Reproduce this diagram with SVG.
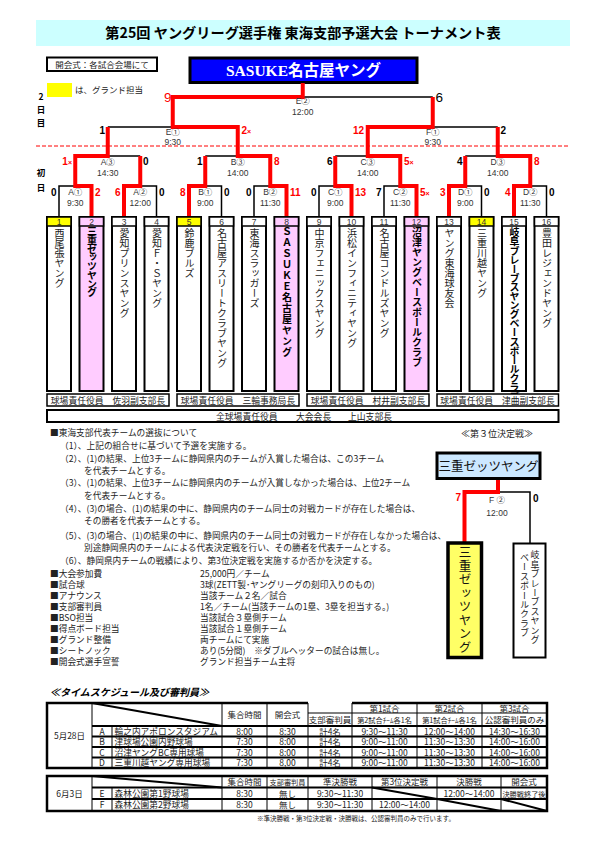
<svg xmlns="http://www.w3.org/2000/svg" width="595" height="842" viewBox="0 0 595 842">
<style>
text{font-family:"Noto Sans CJK JP",sans-serif;}
.lt{font-family:"Liberation Sans","Noto Sans CJK JP",sans-serif;}
.lbl{font-family:"Liberation Sans","Noto Sans CJK JP",sans-serif;font-size:8.5px;fill:#333;text-anchor:middle;}
.sc{font-family:"Liberation Sans",sans-serif;font-weight:bold;font-size:10px;}
.r{fill:#ff0000;}
.k{fill:#000;}
.e{text-anchor:end;}
.ln{fill:none;stroke:#000;stroke-width:1.5;}
.rl{fill:none;stroke:#ff0000;stroke-width:4;}
.tb{stroke:#000;stroke-width:2;}
.th{stroke:#000;stroke-width:1.5;}
.num{font-family:"Liberation Sans",sans-serif;font-size:8.5px;fill:#333;text-anchor:middle;}
.vt{writing-mode:vertical-rl;text-orientation:upright;font-size:10px;fill:#222;}
.vb{writing-mode:vertical-rl;text-orientation:upright;font-size:10px;font-weight:bold;fill:#000;}
.sm{font-size:8.8px;fill:#222;}
.bd{font-size:8.7px;fill:#222;}
.tc{font-size:8.5px;fill:#222;text-anchor:middle;}
.tt{font-size:7.2px;fill:#222;text-anchor:middle;}
.ob{fill:none;stroke:#000;stroke-width:2.5;}
.ib{fill:none;stroke:#000;stroke-width:1;}
.rb{fill:none;stroke:#000;stroke-width:1.8;}
</style>

<!-- Title -->
<g id="title">
<rect x="36" y="20" width="534" height="26" fill="#ccffff"/>
<text x="303" y="38" font-size="14.2" font-weight="bold" text-anchor="middle" fill="#000">第25回 ヤングリーグ選手権 東海支部予選大会 トーナメント表</text>
</g>

<g id="opening-note">
<rect x="47" y="57.5" width="110" height="13.5" fill="#fff" stroke="#000" stroke-width="2"/>
<text x="102" y="67.5" font-size="8.5" text-anchor="middle" fill="#222">開会式：各試合会場にて</text>
</g>

<g id="legend">
<rect x="47" y="83" width="25" height="14" fill="#ffff00"/>
<text x="75" y="92.5" font-size="8.5" fill="#222">は、グランド担当</text>
</g>

<g id="day-labels">
<text x="41" y="100" font-size="8.5" font-weight="bold" text-anchor="middle">2</text>
<text x="41" y="113" font-size="8.5" font-weight="bold" text-anchor="middle">日</text>
<text x="41" y="126" font-size="8.5" font-weight="bold" text-anchor="middle">目</text>
<text x="41" y="176" font-size="8.5" font-weight="bold" text-anchor="middle">初</text>
<text x="41" y="191" font-size="8.5" font-weight="bold" text-anchor="middle">日</text>
</g>

<line x1="36" y1="146" x2="570" y2="146" stroke="#ff0000" stroke-width="1" stroke-dasharray="4,2"/>

<!-- Champion -->
<g id="champion">
<rect x="190" y="58" width="227" height="24.5" fill="#0000ff" stroke="#000" stroke-width="3"/>
<text x="303.5" y="76" text-anchor="middle" fill="#fff" font-weight="bold" font-size="15.5"><tspan font-family="Liberation Serif,serif">SASUKE</tspan>名古屋ヤング</text>
</g>

<!-- Connectors -->
<g id="connectors">
<path class="ln" d="M59,217V186H75.25 M156.5,217V186H140.25 M221.5,217V186H205.25 M254,217V186H270.25 M319,217V186H335.25 M384,217V186H400.25 M481.5,217V186H465.25 M546.5,217V186H530.25 M107.75,156H140.25 M205.25,156H237.75 M335.25,156H367.75 M465.25,156H497.75 M107.75,127H172.75 M497.75,127H432.75 M302.75,97H432.75 M498,492H530V543"/>
<path class="rl" d="M91.5,217V186H75.25V156H107.75V127 M124,217V186H140.25V156 M189,217V186H205.25V156 M286.5,217V186H270.25V156H237.75V127H172.75V97H302.75V83 M351.5,217V186H335.25V156 M416.5,217V186H400.25V156H367.75V127H432.75V97 M449,217V186H465.25V156 M514,217V186H530.25V156H497.75V127 M498,479V492H464.5V543"/>
</g>

<!-- Match labels -->
<g id="matches">
<g id="mA1"><text class="lbl" x="75.25" y="195">A①</text><text class="lbl" x="75.25" y="205.5">9:30</text></g>
<g id="mA2"><text class="lbl" x="140.25" y="195">A②</text><text class="lbl" x="140.25" y="205.5">12:00</text></g>
<g id="mB1"><text class="lbl" x="205.25" y="195">B①</text><text class="lbl" x="205.25" y="205.5">9:00</text></g>
<g id="mB2"><text class="lbl" x="270.25" y="195">B②</text><text class="lbl" x="270.25" y="205.5">11:30</text></g>
<g id="mC1"><text class="lbl" x="335.25" y="195">C①</text><text class="lbl" x="335.25" y="205.5">9:00</text></g>
<g id="mC2"><text class="lbl" x="400.25" y="195">C②</text><text class="lbl" x="400.25" y="205.5">11:30</text></g>
<g id="mD1"><text class="lbl" x="465.25" y="195">D①</text><text class="lbl" x="465.25" y="205.5">9:00</text></g>
<g id="mD2"><text class="lbl" x="530.25" y="195">D②</text><text class="lbl" x="530.25" y="205.5">11:30</text></g>
<g id="mA3"><text class="lbl" x="107.75" y="165">A③</text><text class="lbl" x="107.75" y="175.5">14:30</text></g>
<g id="mB3"><text class="lbl" x="237.75" y="165">B③</text><text class="lbl" x="237.75" y="175.5">14:00</text></g>
<g id="mC3"><text class="lbl" x="367.75" y="165">C③</text><text class="lbl" x="367.75" y="175.5">14:00</text></g>
<g id="mD3"><text class="lbl" x="497.75" y="165">D③</text><text class="lbl" x="497.75" y="175.5">14:00</text></g>
<g id="mE1"><text class="lbl" x="172.75" y="134.5">E①</text><text class="lbl" x="172.75" y="144.5">9:30</text></g>
<g id="mF1"><text class="lbl" x="432.75" y="134.5">F①</text><text class="lbl" x="432.75" y="144.5">9:30</text></g>
<g id="mE2"><text class="lbl" x="302.75" y="103.5">E②</text><text class="lbl" x="302.75" y="114.5">12:00</text></g>
<g id="mF2"><text class="lbl" x="497" y="503">F ②</text><text class="lbl" x="497" y="515.5">12:00</text></g>
</g>

<!-- Scores -->
<g id="scores">
<text class="sc k e" x="56.5" y="196">0</text>
<text class="sc r" x="95" y="196">2</text>
<text class="sc r e" x="120.5" y="196">6</text>
<text class="sc k" x="159" y="196">0</text>
<text class="sc r e" x="185.5" y="196">8</text>
<text class="sc k" x="224" y="196">0</text>
<text class="sc k e" x="251.5" y="196">0</text>
<text class="sc r" x="290" y="196">11</text>
<text class="sc k e" x="316.5" y="196">0</text>
<text class="sc r" x="355" y="196">13</text>
<text class="sc k e" x="381.5" y="196">7</text>
<text class="sc r" x="420" y="196">5<tspan font-size="7">×</tspan></text>
<text class="sc r e" x="445.5" y="196">3</text>
<text class="sc k" x="484" y="196">0</text>
<text class="sc r e" x="510.5" y="196">4</text>
<text class="sc k" x="549" y="196">0</text>
<text class="sc r e" x="72" y="165">1<tspan font-size="7">×</tspan></text>
<text class="sc k" x="143" y="165">0</text>
<text class="sc k e" x="202.5" y="165">1</text>
<text class="sc r" x="274" y="165">8</text>
<text class="sc k e" x="332.5" y="165">6</text>
<text class="sc r" x="404" y="165">5<tspan font-size="7">×</tspan></text>
<text class="sc k e" x="462.5" y="165">4</text>
<text class="sc r" x="534" y="165">8</text>
<text class="sc k e" x="105" y="134">1</text>
<text class="sc r" x="241.5" y="134">2<tspan font-size="7">×</tspan></text>
<text class="sc r e" x="364" y="134">12</text>
<text class="sc k" x="500.5" y="134">2</text>
<text class="lt r e" x="171.5" y="102" font-size="13.5">9</text>
<text class="lt k" x="435.5" y="102" font-size="13.5">6</text>
<text class="sc r e" x="461" y="501" font-size="11">7</text>
<text class="sc k" x="533" y="502" font-size="11">0</text>
</g>

<!-- Teams -->
<g id="team1"><rect class="tb" x="47" y="217" width="24" height="174" fill="#fff"/><rect class="th" x="47" y="217" width="24" height="9" fill="#ffff00"/><text class="num" x="59" y="224.5">1</text><text class="vt" x="59.5" y="228">西尾張ヤング</text></g>
<g id="team2"><rect class="tb" x="79.5" y="217" width="24" height="174" fill="#ffccff"/><rect class="th" x="79.5" y="217" width="24" height="9" fill="#ffccff"/><text class="num" x="91.5" y="224.5">2</text><text class="vb" x="92" y="226.5" font-size="9" letter-spacing="-1.3">三重ゼッツヤング</text></g>
<g id="team3"><rect class="tb" x="112" y="217" width="24" height="174" fill="#fff"/><rect class="th" x="112" y="217" width="24" height="9" fill="#fff"/><text class="num" x="124" y="224.5">3</text><text class="vt" x="124.5" y="228">愛知プリンスヤング</text></g>
<g id="team4"><rect class="tb" x="144.5" y="217" width="24" height="174" fill="#fff"/><rect class="th" x="144.5" y="217" width="24" height="9" fill="#fff"/><text class="num" x="156.5" y="224.5">4</text><text class="vt" x="157" y="228">愛知Ｆ・Ｓヤング</text></g>
<g id="team5"><rect class="tb" x="177" y="217" width="24" height="174" fill="#fff"/><rect class="th" x="177" y="217" width="24" height="9" fill="#ffff00"/><text class="num" x="189" y="224.5">5</text><text class="vt" x="189.5" y="228">鈴鹿ブルズ</text></g>
<g id="team6"><rect class="tb" x="209.5" y="217" width="24" height="174" fill="#fff"/><rect class="th" x="209.5" y="217" width="24" height="9" fill="#fff"/><text class="num" x="221.5" y="224.5">6</text><text class="vt" x="222" y="228">名古屋アスリートクラブヤング</text></g>
<g id="team7"><rect class="tb" x="242" y="217" width="24" height="174" fill="#fff"/><rect class="th" x="242" y="217" width="24" height="9" fill="#fff"/><text class="num" x="254" y="224.5">7</text><text class="vt" x="254.5" y="228">東海スラッガーズ</text></g>
<g id="team8"><rect class="tb" x="274.5" y="217" width="24" height="174" fill="#ffccff"/><rect class="th" x="274.5" y="217" width="24" height="9" fill="#ffccff"/><text class="num" x="286.5" y="224.5">8</text><text class="vb" x="287" y="226.5" letter-spacing="1">ＳＡＳＵＫＥ名古屋ヤング</text></g>
<g id="team9"><rect class="tb" x="307" y="217" width="24" height="174" fill="#fff"/><rect class="th" x="307" y="217" width="24" height="9" fill="#fff"/><text class="num" x="319" y="224.5">9</text><text class="vt" x="319.5" y="228">中京フェニックスヤング</text></g>
<g id="team10"><rect class="tb" x="339.5" y="217" width="24" height="174" fill="#fff"/><rect class="th" x="339.5" y="217" width="24" height="9" fill="#fff"/><text class="num" x="351.5" y="224.5">10</text><text class="vt" x="352" y="228">浜松インフィニティヤング</text></g>
<g id="team11"><rect class="tb" x="372" y="217" width="24" height="174" fill="#fff"/><rect class="th" x="372" y="217" width="24" height="9" fill="#fff"/><text class="num" x="384" y="224.5">11</text><text class="vt" x="384.5" y="228">名古屋コンドルズヤング</text></g>
<g id="team12"><rect class="tb" x="404.5" y="217" width="24" height="174" fill="#ffccff"/><rect class="th" x="404.5" y="217" width="24" height="9" fill="#ffccff"/><text class="num" x="416.5" y="224.5">12</text><text class="vb" x="417" y="227">沼津ヤングベースボールクラブ</text></g>
<g id="team13"><rect class="tb" x="437" y="217" width="24" height="174" fill="#fff"/><rect class="th" x="437" y="217" width="24" height="9" fill="#fff"/><text class="num" x="449" y="224.5">13</text><text class="vt" x="449.5" y="228">ヤング東海球友会</text></g>
<g id="team14"><rect class="tb" x="469.5" y="217" width="24" height="174" fill="#fff"/><rect class="th" x="469.5" y="217" width="24" height="9" fill="#ffff00"/><text class="num" x="481.5" y="224.5">14</text><text class="vt" x="482" y="228">三重川越ヤング</text></g>
<g id="team15"><rect class="tb" x="502" y="217" width="24" height="174" fill="#fff"/><rect class="th" x="502" y="217" width="24" height="9" fill="#fff"/><text class="num" x="514" y="224.5">15</text><text class="vb" x="514.5" y="227.5" font-size="9" letter-spacing="-0.9">岐阜ブレーブスヤングベースボールクラブ</text></g>
<g id="team16"><rect class="tb" x="534.5" y="217" width="24" height="174" fill="#fff"/><rect class="th" x="534.5" y="217" width="24" height="9" fill="#fff"/><text class="num" x="546.5" y="224.5">16</text><text class="vt" x="547" y="228">豊田レジェンドヤング</text></g>

<!-- Officials -->
<g id="officials">
<rect x="47" y="394" width="122" height="12" fill="#fff" stroke="#000" stroke-width="1.5"/>
<text class="sm" x="108" y="403.5" text-anchor="middle">球場責任役員　佐羽副支部長</text>
<rect x="177" y="394" width="122" height="12" fill="#fff" stroke="#000" stroke-width="1.5"/>
<text class="sm" x="238" y="403.5" text-anchor="middle">球場責任役員　三輪事務局長</text>
<rect x="307" y="394" width="122" height="12" fill="#fff" stroke="#000" stroke-width="1.5"/>
<text class="sm" x="368" y="403.5" text-anchor="middle">球場責任役員　村井副支部長</text>
<rect x="437" y="394" width="121.5" height="12" fill="#fff" stroke="#000" stroke-width="1.5"/>
<text class="sm" x="497.5" y="403.5" text-anchor="middle">球場責任役員　津曲副支部長</text>
<rect x="47" y="410" width="511.5" height="12" fill="#fff" stroke="#000" stroke-width="2"/>
<text class="sm" x="216" y="419.5">全球場責任役員</text>
<text class="sm" x="296" y="419.5">大会会長</text>
<text class="sm" x="348" y="419.5">上山支部長</text>
</g>

<!-- Rules text -->
<g id="rules">
<text class="bd" x="50" y="436">■東海支部代表チームの選抜について</text>
<text class="bd" x="60" y="449">（1）、上記の組合せに基づいて予選を実施する。</text>
<text class="bd" x="60" y="462">（2）、(1)の結果、上位3チームに静岡県内のチームが入賞した場合は、この3チーム</text>
<text class="bd" x="84" y="474">を代表チームとする。</text>
<text class="bd" x="60" y="486">（3）、(1)の結果、上位3チームに静岡県内のチームが入賞しなかった場合は、上位2チーム</text>
<text class="bd" x="84" y="499">を代表チームとする。</text>
<text class="bd" x="60" y="512">（4）、(3)の場合、(1)の結果の中に、静岡県内のチーム同士の対戦カードが存在した場合は、</text>
<text class="bd" x="84" y="524">その勝者を代表チームとする。</text>
<text class="bd" x="60" y="539">（5）、(3)の場合、(1)の結果の中に、静岡県内のチーム同士の対戦カードが存在しなかった場合は、</text>
<text class="bd" x="84" y="551">別途静岡県内のチームによる代表決定戦を行い、その勝者を代表チームとする。</text>
<text class="bd" x="60" y="564">（6）、静岡県内チームの戦績により、第3位決定戦を実施するか否かを決定する。</text>
<text class="bd" x="50" y="577">■大会参加費</text><text class="bd" x="200" y="577">25,000円／チーム</text>
<text class="bd" x="50" y="588">■試合球</text><text class="bd" x="200" y="588">3球(ZETT製･ヤングリーグの刻印入りのもの)</text>
<text class="bd" x="50" y="599">■アナウンス</text><text class="bd" x="200" y="599">当該チーム２名／試合</text>
<text class="bd" x="50" y="610">■支部審判員</text><text class="bd" x="200" y="610">1名／チーム(当該チームの1塁、3塁を担当する。)</text>
<text class="bd" x="50" y="621">■BSO担当</text><text class="bd" x="200" y="621">当該試合３塁側チーム</text>
<text class="bd" x="50" y="632">■得点ボード担当</text><text class="bd" x="200" y="632">当該試合１塁側チーム</text>
<text class="bd" x="50" y="643">■グランド整備</text><text class="bd" x="200" y="643">両チームにて実施</text>
<text class="bd" x="50" y="654">■シートノック</text><text class="bd" x="200" y="654">あり(5分間)　※ダブルヘッターの試合は無し。</text>
<text class="bd" x="50" y="665">■開会式選手宣誓</text><text class="bd" x="200" y="665">グランド担当チーム主将</text>
</g>

<!-- Third place -->
<g id="third-title"><text x="497" y="436.5" font-size="9" text-anchor="middle" fill="#222">≪第３位決定戦≫</text></g>
<g id="third-winner">
<rect x="437" y="453" width="103" height="25.5" fill="#cce8ff" stroke="#000" stroke-width="3"/>
<text x="488.5" y="470.5" font-size="12.5" text-anchor="middle" fill="#111">三重ゼッツヤング</text>
</g>
<g id="third-team-a">
<rect x="448" y="543" width="33.5" height="114.5" fill="#ffff66" stroke="#000" stroke-width="3.5"/>
<text x="465" y="546" font-size="12.5" letter-spacing="1" style="writing-mode:vertical-rl;text-orientation:upright" fill="#111">三重ゼッツヤング</text>
</g>
<g id="third-team-b">
<rect x="513.5" y="543.5" width="32" height="114" fill="#fff" stroke="#000" stroke-width="2"/>
<text x="535" y="550.5" font-size="9" letter-spacing="0.4" style="writing-mode:vertical-rl;text-orientation:upright" fill="#222">岐阜ブレーブスヤング</text>
<text x="524.5" y="553" font-size="9" letter-spacing="0.4" style="writing-mode:vertical-rl;text-orientation:upright" fill="#222">ベースボールクラブ</text>
</g>

<!-- Schedule -->
<g id="schedule-title"><text x="50" y="695.5" font-size="10" font-weight="bold" font-style="italic" fill="#000">≪タイムスケジュール及び審判員≫</text></g>

<g id="table1">
<path class="ib" d="M92,703V768 M112,726V768 M222,703V768 M267,703V768 M308,703V768 M352,703V768 M417,703V768 M482,703V768 M308,713H547"/>
<path class="rb" d="M92,726H547 M92,736.5H547 M92,747H547 M92,757.5H547"/>
<path class="ob" d="M308,703H47V768H547V703H352"/>
<line x1="92" y1="703" x2="222" y2="726" stroke="#000" stroke-width="2"/>
<text class="tc" x="244.5" y="718">集合時間</text>
<text class="tc" x="287.5" y="718">開会式</text>
<text class="tc" x="330" y="723">支部審判員</text>
<text class="tc" x="384.5" y="711.5">第1試合</text>
<text class="tc" x="449.5" y="711.5">第2試合</text>
<text class="tc" x="514.5" y="711.5">第3試合</text>
<text class="tt" x="384.5" y="723">第2試合ﾁｰﾑ各1名</text>
<text class="tt" x="449.5" y="723">第1試合ﾁｰﾑ各1名</text>
<text class="tc" x="514.5" y="723">公認審判員のみ</text>
<text class="tc" x="69.5" y="738.5">5月28日</text>
<text class="tc" x="102" y="734.5">A</text>
<text class="tc" x="102" y="745">B</text>
<text class="tc" x="102" y="755.5">C</text>
<text class="tc" x="102" y="766">D</text>
<text class="bd" x="114.5" y="734.5">輪之内アポロンスタジアム</text>
<text class="bd" x="114.5" y="745">津球場公園内野球場</text>
<text class="bd" x="114.5" y="755.5">沼津ヤングBC専用球場</text>
<text class="bd" x="114.5" y="766">三重川越ヤング専用球場</text>
<text class="tc" x="244.5" y="734.5">8:00</text>
<text class="tc" x="244.5" y="745">7:30</text>
<text class="tc" x="244.5" y="755.5">7:30</text>
<text class="tc" x="244.5" y="766">7:30</text>
<text class="tc" x="287.5" y="734.5">8:30</text>
<text class="tc" x="287.5" y="745">8:00</text>
<text class="tc" x="287.5" y="755.5">8:00</text>
<text class="tc" x="287.5" y="766">8,00</text>
<text class="tc" x="330" y="734.5">計4名</text>
<text class="tc" x="330" y="745">計4名</text>
<text class="tc" x="330" y="755.5">計4名</text>
<text class="tc" x="330" y="766">計4名</text>
<text class="tc" x="384.5" y="734.5">9:30～11:30</text>
<text class="tc" x="384.5" y="745">9:00～11:00</text>
<text class="tc" x="384.5" y="755.5">9:00～11:00</text>
<text class="tc" x="384.5" y="766">9:00～11:00</text>
<text class="tc" x="449.5" y="734.5">12:00～14:00</text>
<text class="tc" x="449.5" y="745">11:30～13:30</text>
<text class="tc" x="449.5" y="755.5">11:30～13:30</text>
<text class="tc" x="449.5" y="766">11:30～13:30</text>
<text class="tc" x="514.5" y="734.5">14:30～16:30</text>
<text class="tc" x="514.5" y="745">14:00～16:00</text>
<text class="tc" x="514.5" y="755.5">14:00～16:00</text>
<text class="tc" x="514.5" y="766">14:00～16:00</text>
</g>

<g id="table2">
<path class="ib" d="M92,776V811 M112,787.5V811 M222,776V811 M267,776V811 M308,776V811 M372,776V811 M437,776V811 M501,776V811"/>
<path class="rb" d="M92,787.5H547 M92,799H547"/>
<rect class="ob" x="47" y="776" width="500" height="35"/>
<path d="M92,776L222,787.5 M372,787.5L437,799 M437,799L501,811 M501,799L547,811" stroke="#000" stroke-width="2" fill="none"/>
<text class="tc" x="244.5" y="785">集合時間</text>
<text class="tt" x="287.5" y="784.5">支部審判員</text>
<text class="tc" x="340" y="785">準決勝戦</text>
<text class="tc" x="404.5" y="785">第3位決定戦</text>
<text class="tc" x="469" y="785">決勝戦</text>
<text class="tc" x="524" y="785">開会式</text>
<text class="tc" x="69.5" y="797">6月3日</text>
<text class="tc" x="102" y="796.5">E</text>
<text class="tc" x="102" y="808">F</text>
<text class="bd" x="114.5" y="796.5">森林公園第1野球場</text>
<text class="bd" x="114.5" y="808">森林公園第2野球場</text>
<text class="tc" x="244.5" y="796.5">8:30</text>
<text class="tc" x="244.5" y="808">8:30</text>
<text class="tc" x="287.5" y="796.5">無し</text>
<text class="tc" x="287.5" y="808">無し</text>
<text class="tc" x="340" y="796.5">9:30～11:30</text>
<text class="tc" x="340" y="808">9:30～11:30</text>
<text class="tc" x="404.5" y="808">12:00～14:00</text>
<text class="tc" x="469" y="796.5">12:00～14:00</text>
<text class="tt" x="524" y="796.5">決勝戦終了後</text>
</g>
<g id="footnote"><text x="257" y="820.5" font-size="6.5" fill="#222">※準決勝戦・第3位決定戦・決勝戦は、公認審判員のみで行います。</text></g>
</svg>
